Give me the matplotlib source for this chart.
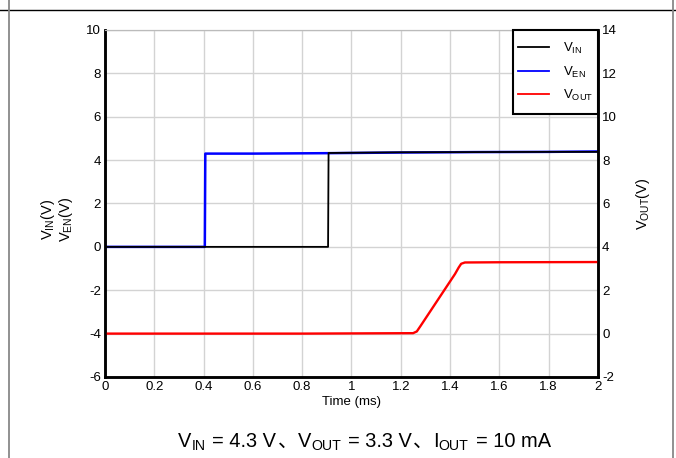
import numpy as np
import matplotlib.pyplot as plt
from matplotlib.lines import Line2D
from matplotlib.patches import Rectangle

t_vin = [0, 0.905, 0.907, 1.2, 1.5, 1.8, 2.0]
v_vin = [0, 0, 4.33, 4.36, 4.37, 4.38, 4.38]

t_ven = [0, 0.405, 0.407, 0.6, 0.9, 1.2, 1.5, 1.8, 2.0]
v_ven = [0, 0, 4.3, 4.3, 4.32, 4.35, 4.37, 4.38, 4.4]

t_vout = [0, 0.8, 1.25, 1.265, 1.28, 1.35, 1.42, 1.435, 1.445, 1.46, 1.6, 2.0]
v_vout = [0, 0, 0.02, 0.1, 0.35, 1.55, 2.75, 3.05, 3.22, 3.28, 3.29, 3.3]

x_ticks = ['0', '0.2', '0.4', '0.6', '0.8', '1', '1.2', '1.4', '1.6', '1.8', '2']

# caption pieces: (text, kind)
caption = [('V', 'main'), ('IN', 'sub'), ('= 4.3 V', 'main'), ('、', 'cjk'),
           ('V', 'main'), ('OUT', 'sub'), ('= 3.3 V', 'main'), ('、', 'cjk'),
           ('I', 'main'), ('OUT', 'sub'), ('= 10 mA', 'main')]

plt.rcParams['font.family'] = ['Liberation Sans', 'Noto Sans CJK SC', 'DejaVu Sans']
plt.rcParams['axes.unicode_minus'] = False

fig = plt.figure(figsize=(6.76, 4.58), dpi=100)
ax = fig.add_axes([0.1553, 0.1769, 0.7293, 0.7576])
ax2 = ax.twinx()

ax.plot(t_vin, v_vin, color='black', lw=1.3, zorder=3)
ax.plot(t_ven, v_ven, color='#0000ff', lw=1.8, zorder=2)
ax2.plot(t_vout, v_vout, color='#ff0000', lw=1.7)

ax.set_xlim(0, 2)
ax.set_ylim(-6, 10)
ax2.set_ylim(-2, 14)
ax.set_xticks(np.arange(0, 2.01, 0.2))
ax.set_xticklabels(x_ticks)
ax.set_yticks(np.arange(-6, 10.1, 2))
ax2.set_yticks(np.arange(-2, 14.1, 2))
ax.grid(True, color='#d3d3d3', lw=1)
ax.tick_params(length=0, labelsize=9.5, pad=3)
ax2.tick_params(length=0, labelsize=9.5, pad=3)

for a in (ax, ax2):
    for s in ('left', 'right', 'bottom'):
        a.spines[s].set_linewidth(1.8)
        a.spines[s].set_color('black')
    a.spines['top'].set_color('#bbbbbb')

ax.set_xlabel('Time (ms)', fontsize=9.5, labelpad=2)
fig.text(0.071, 0.52, 'V$_{\\mathregular{IN}}$(V)', rotation=90, ha='center', va='center', fontsize=10.5)
fig.text(0.098, 0.52, 'V$_{\\mathregular{EN}}$(V)', rotation=90, ha='center', va='center', fontsize=10.5)
ax2.set_ylabel('V$_{\\mathregular{OUT}}$(V)', fontsize=10.5, labelpad=12)

# legend box drawn separately so its size can match the scope screenshot
box = Rectangle((0.828, 0.758), 0.172, 0.242, transform=ax2.transAxes, fill=True,
                facecolor='white', edgecolor='black', lw=1.5, zorder=5, clip_on=False)
ax2.add_patch(box)
handles = [Line2D([], [], color='black', lw=1.3),
           Line2D([], [], color='#0000ff', lw=1.3),
           Line2D([], [], color='#ff0000', lw=1.3)]
labels = ['V$_{\\mathregular{IN}}$', 'V$_{\\mathregular{EN}}$', 'V$_{\\mathregular{OUT}}$']
leg = ax2.legend(handles, labels, loc='center', bbox_to_anchor=(0.914, 0.879),
                 fontsize=9.5, frameon=False, borderaxespad=0, borderpad=0,
                 handlelength=2.35, handletextpad=1.05, labelspacing=0.63)
leg.set_zorder(6)

# caption built from chained pieces so the CJK comma gets its own font
yb = 0.024
first = fig.text(0.3, yb, caption[0][0], fontsize=14.4, va='baseline', ha='left')
prev = first
prev_kind = 'main'
last = first
for txt, kind in caption[1:]:
    gap = 0
    dy = 0
    size = 14.4
    fam = ['Liberation Sans']
    if kind == 'sub':
        size = 10.2
        dy = -2.5
    elif kind == 'cjk':
        fam = ['Noto Sans CJK SC']
        gap = 1
    elif prev_kind == 'sub':
        gap = 5
    last = ax.annotate(txt, xy=(1, yb), xycoords=(prev, 'figure fraction'),
                       xytext=(gap, dy), textcoords='offset points',
                       fontsize=size, family=fam, va='baseline', ha='left',
                       annotation_clip=False)
    prev = last
    prev_kind = kind

fig.canvas.draw()
r = fig.canvas.get_renderer()
x0 = first.get_window_extent(r).x0
x1 = last.get_window_extent(r).x1
shift = (0.539 * fig.bbox.width - (x0 + x1) / 2) / fig.bbox.width
first.set_x(first.get_position()[0] + shift)

# surrounding table-cell borders
fig.add_artist(Line2D([0, 1], [0.979, 0.979], color='black', lw=1, transform=fig.transFigure))
fig.add_artist(Line2D([0.014, 0.014], [0, 1], color='#888888', lw=1.3, transform=fig.transFigure))
fig.add_artist(Line2D([0.996, 0.996], [0, 1], color='#888888', lw=1.3, transform=fig.transFigure))

fig.savefig('out.png', dpi=100)
